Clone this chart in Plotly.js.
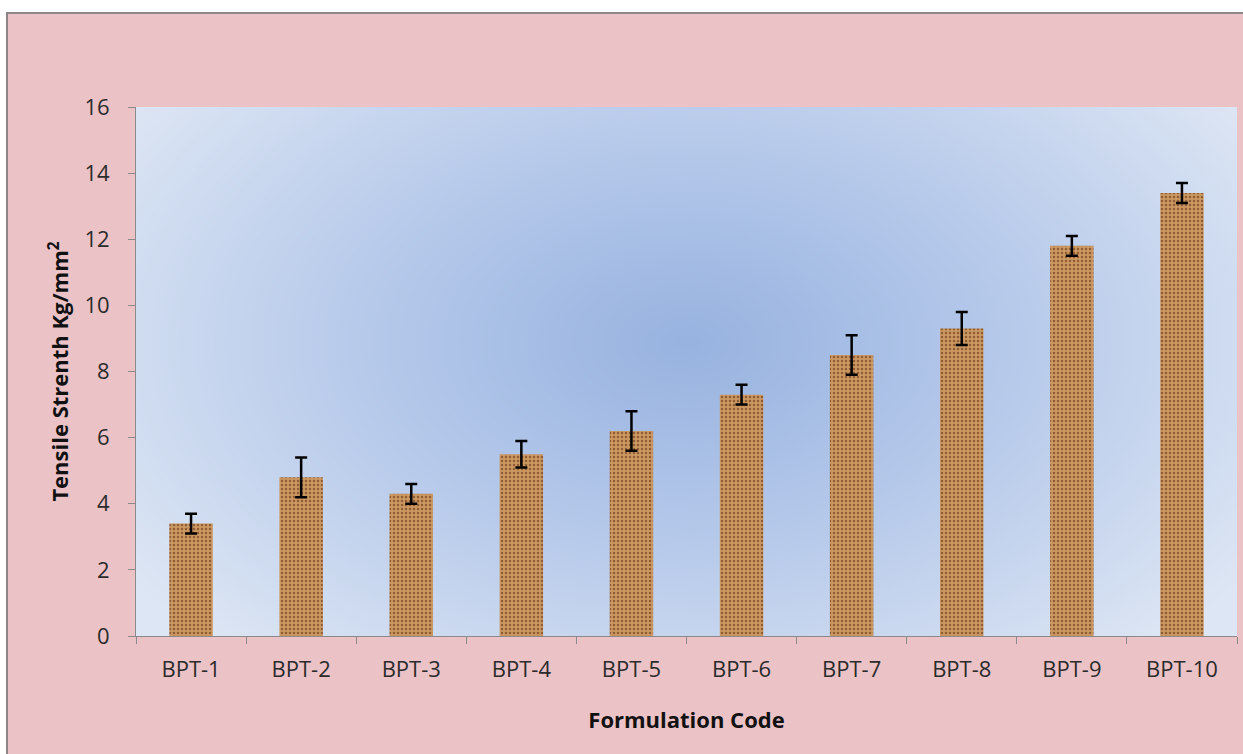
<!DOCTYPE html>
<html>
<head>
<meta charset="utf-8">
<script src="https://cdn.plot.ly/plotly-3.0.1.min.js"></script>
<style>
  html, body { margin: 0; padding: 0; background: #ffffff; width: 1243px; height: 754px; overflow: hidden; }
  #chart { position: absolute; left: 6px; top: 12px; width: 1237px; height: 742px;
           border-left: 2px solid #8c8686; border-top: 2px solid #8c8686; box-sizing: border-box; }
</style>
</head>
<body>
<div id="chart"></div>
<script>
// Data
const categories = ["BPT-1","BPT-2","BPT-3","BPT-4","BPT-5","BPT-6","BPT-7","BPT-8","BPT-9","BPT-10"];
const tensileStrength = [3.4, 4.8, 4.3, 5.5, 6.2, 7.3, 8.5, 9.3, 11.8, 13.4];
const errorValues = [0.3, 0.6, 0.3, 0.4, 0.6, 0.3, 0.6, 0.5, 0.3, 0.3];
const yTickValues = [0, 2, 4, 6, 8, 10, 12, 14, 16];

// Radial gradient for plot background (style only)
function gradientImage() {
  const c = document.createElement('canvas');
  c.width = 1099; c.height = 528;
  const ctx = c.getContext('2d');
  ctx.save();
  ctx.translate(550, 235);
  ctx.scale(1.6, 1);
  const g = ctx.createRadialGradient(0, 0, 0, 0, 0, 420);
  g.addColorStop(0, '#98b3e0');
  g.addColorStop(0.45, '#b4c8ea');
  g.addColorStop(1, '#dde6f4');
  ctx.fillStyle = g;
  ctx.fillRect(-600, -400, 1200, 800);
  ctx.restore();
  return c.toDataURL('image/png');
}

const font = "'Open Sans', 'DejaVu Sans', sans-serif";

const trace = {
  type: 'bar',
  x: categories,
  y: tensileStrength,
  marker: {
    color: '#c9955f',
    line: { width: 0 },
    pattern: { shape: '.', bgcolor: '#cb9862', fgcolor: '#8f5c34', size: 4, solidity: 0.3, fillmode: 'replace' }
  },
  error_y: { type: 'data', array: errorValues, visible: true, color: '#000000', thickness: 2.5, width: 6 },
  hoverinfo: 'x+y'
};

const layout = {
  width: 1237, height: 742,
  margin: { l: 128, r: 8, t: 93, b: 120 },
  paper_bgcolor: '#ebc3c7',
  plot_bgcolor: 'rgba(0,0,0,0)',
  bargap: 0.605,
  showlegend: false,
  font: { family: font, size: 22, color: '#2b2b2b' },
  images: [{
    source: gradientImage(), xref: 'paper', yref: 'paper', x: 0, y: 1,
    sizex: 1, sizey: 1, sizing: 'stretch', xanchor: 'left', yanchor: 'top', layer: 'below'
  }],
  xaxis: {
    type: 'category',
    showline: true, linecolor: '#8a8a8a', linewidth: 1,
    ticks: 'outside', tickson: 'boundaries', ticklen: 7, tickcolor: '#8a8a8a',
    ticklabelstandoff: 14,
    showgrid: false,
    tickfont: { family: font, size: 22, color: '#2b2b2b' },
    title: { text: 'Formulation Code', font: { family: font, size: 22, color: '#111111', weight: 'bold' }, standoff: 30 }
  },
  yaxis: {
    range: [0, 16], tickvals: yTickValues,
    showline: true, linecolor: '#8a8a8a', linewidth: 1,
    ticks: 'outside', ticklen: 7, tickcolor: '#8a8a8a',
    ticklabelstandoff: 14,
    showgrid: false, zeroline: false,
    tickfont: { family: font, size: 22, color: '#2b2b2b' },
    title: { text: 'Tensile Strenth Kg/mm<sup>2</sup>', font: { family: font, size: 22, color: '#111111', weight: 'bold' }, standoff: 9 }
  }
};

Plotly.newPlot('chart', [trace], layout, { displayModeBar: false, staticPlot: true });
</script>
</body>
</html>
